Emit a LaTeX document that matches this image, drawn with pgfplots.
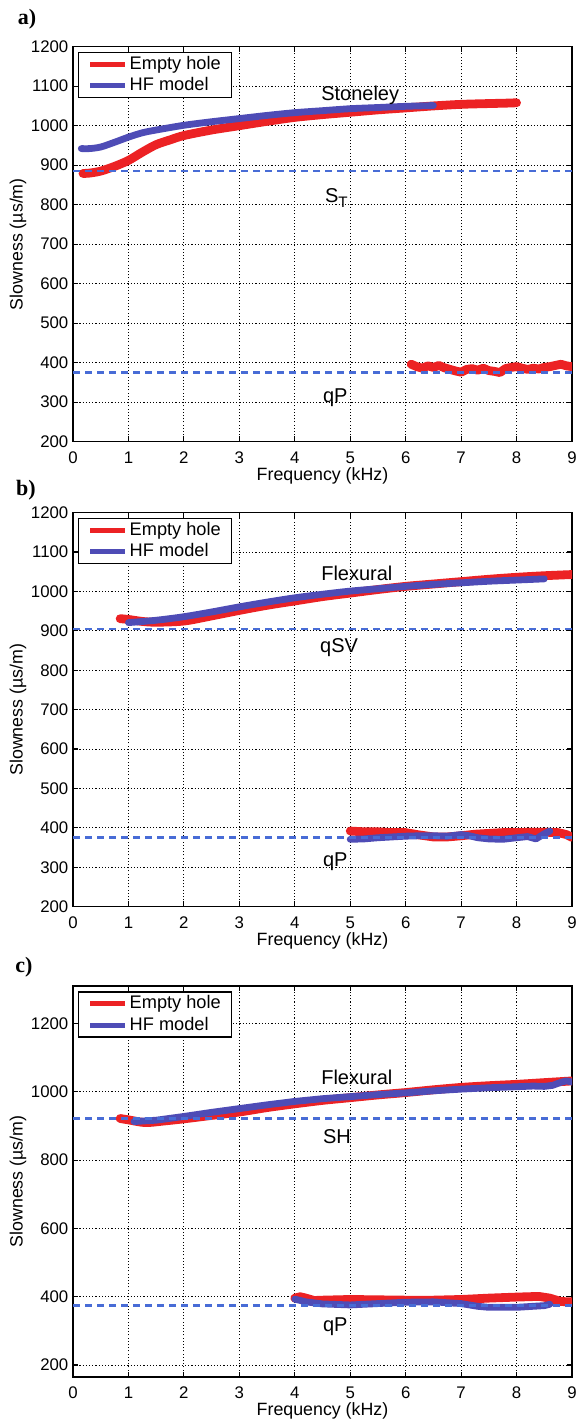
\documentclass[border=0pt]{standalone}
\usepackage{pgfplots}
\pgfplotsset{compat=1.18}
\usepackage{fontspec}
\setmainfont{Liberation Sans}
\newfontfamily\serifbold{Liberation Serif}
\definecolor{ehred}{RGB}{236,34,36}
\definecolor{hfblue}{RGB}{78,76,182}
\definecolor{dashblue}{RGB}{72,108,214}
\pgfplotsset{
  panel/.style={
    scale only axis, width=249.5pt,
    xmin=0, xmax=9, xtick={0,...,9},
    grid=major,
    major grid style={black, line width=0.5pt, dash pattern=on 0.55pt off 1.05pt},
    axis line style={line width=0.7pt},
    tick style={black, line width=0.6pt},
    major tick length=2.6pt, tick align=inside,
    tick label style={font=\fontsize{8.4}{10}\selectfont},
    /pgf/number format/assume math mode=true,
    /pgf/number format/1000 sep={},
    xticklabel style={yshift=-1.6pt},
    yticklabel style={xshift=1.2pt},
    label style={font=\fontsize{8.9}{10}\selectfont},
    xlabel={Frequency (kHz)},
    xlabel style={at={(axis description cs:0.5,0)}, anchor=center, yshift=-16.9pt},
    ylabel={Slowness (µs/m)},
    ylabel style={at={(axis description cs:-0.11,0.5)}, anchor=center},
    legend style={at={(axis description cs:0,1)}, anchor=north west, xshift=2.5pt, yshift=-2.6pt,
      draw=black, line width=0.7pt, font=\fontsize{9.1}{10}\selectfont,
      inner xsep=4.5pt, inner ysep=0.6pt, row sep=0pt,
      nodes={inner sep=1pt, text height=6.8pt, text depth=1.9pt},
      cells={anchor=west}},
    legend image code/.code={\draw[#1, line width=2.5pt, line cap=butt] (0pt,0pt) -- (17.5pt,0pt);},
    every node/.append style={font=\fontsize{8.9}{10}\selectfont},
  },
  red curve/.style={ehred, line width=4.4pt, line join=round, line cap=round, no markers},
  blue curve/.style={hfblue, line width=3.4pt, line join=round, line cap=round, no markers},
  ref line/.style={dashblue, line width=1.3pt, dash pattern=on 3.6pt off 2.4pt, no markers, forget plot},
}
\begin{document}
\begin{tikzpicture}
\useasboundingbox (0,0) rectangle (289.5pt,713.5pt);
\node[font=\serifbold\bfseries\fontsize{11}{12}\selectfont] at (13.5pt,704pt) {a)};
\node[font=\serifbold\bfseries\fontsize{11}{12}\selectfont] at (13pt,468.5pt) {b)};
\node[font=\serifbold\bfseries\fontsize{11}{12}\selectfont] at (12pt,230pt) {c)};

% ---------------- panel a ----------------
\begin{axis}[panel, at={(36.5pt,492.65pt)}, anchor=south west, height=197.5pt,
  ymin=200, ymax=1200, ytick={200,300,...,1200}]
\addplot[red curve, smooth] coordinates {(0.18,879) (0.3,880) (0.5,885) (0.75,897) (1.0,912) (1.25,933) (1.5,952) (1.75,964) (2.0,975) (2.5,989) (3.0,1000) (3.5,1011) (4.0,1021) (4.5,1028) (5.0,1034) (5.5,1040) (6.0,1045) (6.5,1050) (7.0,1054) (7.5,1056) (7.8,1057) (8.0,1058)};
\addlegendentry{Empty hole}
\addplot[blue curve, smooth] coordinates {(0.15,942) (0.3,942) (0.5,946) (0.75,958) (1.0,971) (1.25,982) (1.5,989) (2.0,1001) (2.5,1010) (3.0,1018) (3.5,1026) (4.0,1033) (4.5,1038) (5.0,1043) (5.5,1046) (6.0,1049) (6.5,1051)};
\addlegendentry{HF model}
\addplot[red curve, forget plot] coordinates {(6.1,396) (6.2,390) (6.3,386) (6.4,392) (6.5,388) (6.6,393) (6.7,387) (6.8,383) (6.9,379) (7.0,376) (7.1,383) (7.2,385) (7.3,381) (7.4,386) (7.5,380) (7.6,378) (7.7,375) (7.8,385) (7.9,388) (8.0,390) (8.1,386) (8.2,383) (8.3,386) (8.4,384) (8.5,388) (8.6,390) (8.7,393) (8.8,396) (8.9,392) (9.0,390)};
\addplot[ref line] coordinates {(0,885) (9,885)};
\addplot[ref line] coordinates {(0,375) (9,375)};
\node at (axis cs:5.18,1078) {Stoneley};
\node at (axis cs:4.75,817) {S\raisebox{-0.55ex}{\fontsize{7.6}{8}\selectfont T}};
\node at (axis cs:4.73,311) {qP};
\end{axis}

% ---------------- panel b ----------------
\begin{axis}[panel, at={(36.5pt,260.15pt)}, anchor=south west, height=197pt,
  ymin=200, ymax=1200, ytick={200,300,...,1200}]
\addplot[red curve, smooth] coordinates {(0.85,931) (1.0,929) (1.25,924) (1.5,922) (2.0,925) (2.5,938) (3.0,952) (3.5,965) (4.0,976) (4.5,987) (5.0,996) (5.5,1005) (6.0,1013) (6.5,1019) (7.0,1025) (7.5,1031) (8.0,1036) (8.5,1040) (9.0,1043)};
\addlegendentry{Empty hole}
\addplot[blue curve, smooth] coordinates {(1.0,921) (1.5,927) (2.0,936) (2.5,948) (3.0,961) (3.5,973) (4.0,984) (4.5,993) (5.0,1001) (5.5,1007) (6.0,1013) (6.5,1018) (7.0,1022) (7.5,1026) (8.0,1029) (8.5,1032)};
\addlegendentry{HF model}
\addplot[red curve, forget plot] coordinates {(5.0,392) (5.25,390) (5.5,390) (5.75,388) (6.0,388) (6.25,382) (6.5,377) (6.75,377) (7.0,380) (7.25,384) (7.5,386) (7.75,388) (8.0,388) (8.25,389) (8.5,389) (8.75,388) (8.9,383) (9.0,376)};
\addplot[blue curve, forget plot] coordinates {(5.0,371) (5.25,372) (5.5,375) (5.75,377) (6.0,379) (6.25,380) (6.5,380) (6.75,379) (7.0,383) (7.15,380) (7.3,375) (7.5,372) (7.75,371) (8.0,375) (8.2,378) (8.35,372) (8.5,385) (8.6,392)};
\addplot[ref line] coordinates {(0,905) (9,905)};
\addplot[ref line] coordinates {(0,375) (9,375)};
\node at (axis cs:5.12,1045) {Flexural};
\node at (axis cs:4.8,857) {qSV};
\node at (axis cs:4.73,313) {qP};
\end{axis}

% ---------------- panel c ----------------
\begin{axis}[panel, at={(36.5pt,25pt)}, anchor=south west, height=195.5pt,
  ymin=165, ymax=1310, ytick={200,400,...,1200}]
\addplot[red curve, smooth] coordinates {(0.85,922) (1.0,918) (1.3,910) (1.6,914) (2.0,921) (2.5,931) (3.0,941) (3.5,954) (4.0,965) (4.5,975) (5.0,983) (5.5,991) (6.0,998) (6.5,1006) (7.0,1013) (7.5,1018) (8.0,1022) (8.5,1027) (9.0,1032)};
\addlegendentry{Empty hole}
\addplot[blue curve] coordinates {(1.1,913) (1.5,917) (2.0,928) (2.5,940) (3.0,951) (3.5,962) (4.0,972) (4.5,980) (5.0,986) (5.5,992) (6.0,997) (6.5,1003) (7.0,1008) (7.5,1012) (8.0,1015) (8.3,1017) (8.5,1016) (8.65,1019) (8.8,1028) (8.9,1032) (9.0,1029)};
\addlegendentry{HF model}
\addplot[red curve, forget plot] coordinates {(4.0,396) (4.1,400) (4.2,396) (4.35,389) (4.5,390) (5.0,392) (5.5,391) (6.0,390) (6.5,390) (7.0,392) (7.5,396) (8.0,399) (8.4,401) (8.6,396) (8.8,386) (9.0,385)};
\addplot[blue curve, forget plot] coordinates {(4.0,393) (4.2,385) (4.5,379) (5.0,376) (5.5,380) (6.0,384) (6.5,385) (7.0,380) (7.3,372) (7.5,369) (8.0,369) (8.2,371) (8.5,374) (8.6,378)};
\addplot[ref line] coordinates {(0,922) (9,922)};
\addplot[ref line] coordinates {(0,374) (9,374)};
\node at (axis cs:5.12,1043) {Flexural};
\node at (axis cs:4.76,870) {SH};
\node at (axis cs:4.73,311) {qP};
\end{axis}
\end{tikzpicture}
\end{document}
